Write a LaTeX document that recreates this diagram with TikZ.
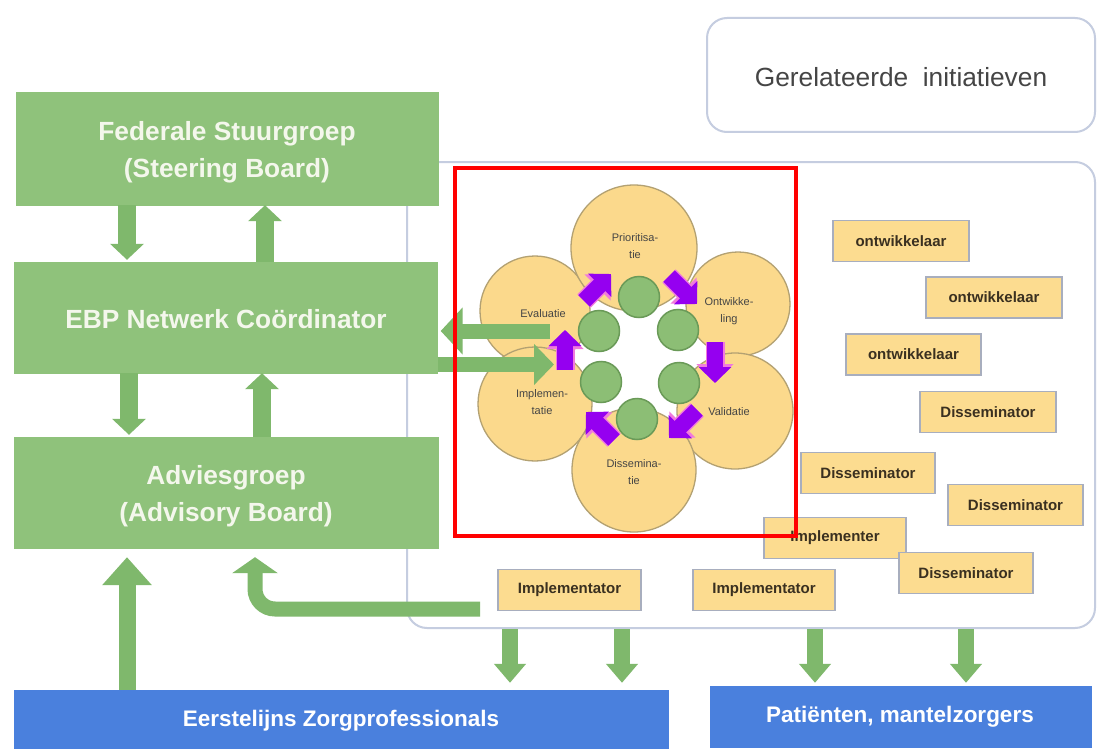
\documentclass[tikz,border=0pt]{standalone}
\usepackage{fontspec}
\setmainfont{Liberation Sans}
\usetikzlibrary{arrows.meta}
\definecolor{gboxc}{HTML}{8FC27B}
\definecolor{garrc}{HTML}{7FB86C}
\definecolor{gtext}{HTML}{F4F7EC}
\definecolor{bluec}{HTML}{4A80DD}
\definecolor{framec}{HTML}{C5CDE0}
\definecolor{labfill}{HTML}{FCDC90}
\definecolor{labdraw}{HTML}{A8AEBE}
\definecolor{labtext}{HTML}{3A3020}
\definecolor{petal}{HTML}{FBD98C}
\definecolor{petald}{HTML}{B3A172}
\definecolor{gcirc}{HTML}{8CBE75}
\definecolor{gcircd}{HTML}{6A9A58}
\definecolor{purp}{HTML}{9500F0}
\definecolor{pinkh}{HTML}{F07ADC}
\definecolor{darkt}{HTML}{454545}
\begin{document}
\begin{tikzpicture}[x=1pt,y=-1pt,
  gbox/.style={rectangle, fill=gboxc, draw=gboxc, inner sep=0pt},
  gtxt/.style={text=gtext, align=center, inner sep=0pt, font=\fontsize{26.3}{37}\selectfont\bfseries},
  bbar/.style={rectangle, fill=bluec, draw=bluec, inner sep=0pt},
  btxt/.style={text=white, font=\fontsize{22.5}{27}\selectfont\bfseries},
  frame/.style={rectangle, rounded corners=20pt, draw=framec, line width=2pt, fill=white, inner sep=0pt},
  lab/.style={rectangle, fill=labfill, draw=labdraw, line width=1.5pt, inner sep=0pt,
    minimum height=41pt, text=labtext, font=\fontsize{15}{17}\selectfont\bfseries},
  petalc/.style={circle, fill=petal, draw=petald, line width=1.3pt, inner sep=0pt},
  ptxt/.style={text=darkt, align=center, inner sep=0pt, font=\fontsize{11}{17.5}\selectfont},
  gc/.style={circle, fill=gcirc, draw=gcircd, line width=1.5pt, inner sep=0pt, minimum size=41pt},
  garrow/.style={draw=garrc, line width=18pt, -{Triangle[width=33pt,length=16pt]}},
  garrowbig/.style={draw=garrc, line width=17pt, -{Triangle[width=48pt,length=28pt]}},
  garrowbent/.style={draw=garrc, line width=15pt, rounded corners=20pt, -{Triangle[width=45pt,length=16pt]}},
  garrowh/.style={draw=garrc, line width=15pt, -{Triangle[width=46pt,length=22pt]}},
  garrowd/.style={draw=garrc, line width=16pt, -{Triangle[width=31pt,length=19pt]}},
  phalo/.style={draw=pinkh, line width=19pt, -{Triangle[width=36pt,length=19pt]}},
  parrow/.style={draw=purp, line width=16pt, -{Triangle[width=32pt,length=16pt]}}
]
\useasboundingbox (0,0) rectangle (1097,749);
\fill[white] (0,0) rectangle (1097,749);

% frames
\node[frame, minimum width=388pt, minimum height=114pt] (rel) at (901,75) {};
\node[text=darkt, font=\fontsize{26.3}{30}\selectfont] (reltext) at (901,77) {Gerelateerde\ \ initiatieven};
\node[frame, minimum width=688pt, minimum height=466pt] (cont) at (751,395) {};

% left column boxes
\node[gbox, minimum width=422pt, minimum height=113pt] (fed) at (227,148.5) {};
\node[gtxt] (fedt) at (227,152) {Federale Stuurgroep\\(Steering Board)};
\node[gbox, minimum width=423pt, minimum height=111pt] (ebp) at (226,317.5) {};
\node[gtxt] (ebpt) at (226,319) {EBP Netwerk Coördinator};
\node[gbox, minimum width=424pt, minimum height=111pt] (adv) at (226,492.5) {};
\node[gtxt] (advt) at (226,496.5) {Adviesgroep\\(Advisory Board)};

% bottom bars
\node[bbar, minimum width=654pt, minimum height=60pt] (eer) at (341,720) {};
\node[btxt] (eert) at (341,721) {Eerstelijns Zorgprofessionals};
\node[bbar, minimum width=381pt, minimum height=61pt] (pat) at (900.5,716.5) {};
\node[btxt] (patt) at (900,717) {Patiënten, mantelzorgers};

% arrows between left boxes
\draw[garrow] ([xshift=-100pt]fed.south) -- ([xshift=-100pt,yshift=2pt]fed.south |- ebp.north);
\draw[garrow] ([xshift=38pt]fed.south |- ebp.north) -- ([xshift=38pt]fed.south);
\draw[garrow] ([xshift=-97pt]ebp.south) -- ([xshift=-97pt,yshift=2pt]ebp.south |- adv.north);
\draw[garrow] ([xshift=36pt]ebp.south |- adv.north) -- ([xshift=36pt]ebp.south);
\draw[garrowbig] ([xshift=-99pt]adv.south |- eer.north) -- ([xshift=-99pt,yshift=-9pt]adv.south);
\coordinate (bs) at (480,609);
\draw[garrowbent] (bs) -| ([xshift=29pt,yshift=-9pt]adv.south);

% down arrows to bottom bars
\coordinate (x1) at (510,0);
\coordinate (x2) at (622,0);
\coordinate (x3) at (815,0);
\coordinate (x4) at (966,0);
\draw[garrowd] (x1 |- cont.south) -- ([yshift=7pt]x1 |- eer.north);
\draw[garrowd] (x2 |- cont.south) -- ([yshift=7pt]x2 |- eer.north);
\draw[garrowd] (x3 |- cont.south) -- ([yshift=3pt]x3 |- pat.north);
\draw[garrowd] (x4 |- cont.south) -- ([yshift=3pt]x4 |- pat.north);

% flower petals
\node[petalc, minimum size=110pt] (eva) at (535,311) {};
\node[petalc, minimum size=126pt] (pri) at (634,248) {};
\node[petalc, minimum size=104pt] (ont) at (738,304) {};
\node[petalc, minimum size=116pt] (val) at (735,411) {};
\node[petalc, minimum size=114pt] (imp) at (535,404) {};
\node[petalc, minimum size=124pt] (dis) at (634,470) {};
\node[ptxt] (evat) at (543,314) {Evaluatie};
\node[ptxt] (prit) at (635,246) {Prioritisa-\\tie};
\node[ptxt] (ontt) at (729,311) {Ontwikke-\\ling};
\node[ptxt] (valt) at (729,412) {Validatie};
\node[ptxt] (imptt) at (542,402) {Implemen-\\tatie};
\node[ptxt] (dist) at (634,472) {Dissemina-\\tie};

% horizontal arrows (over the petals)
\coordinate (hl) at (550,331);
\coordinate (hr) at (554,364.5);
\draw[garrowh] (hl) -- ([xshift=3pt,yshift=-13.5pt]ebp.east);
\draw[garrowh, -{Triangle[width=40pt,length=20pt]}] ([yshift=-47pt]ebp.east) -- (hr);

% inner green circles
\node[gc] (g1) at (639,297) {};
\node[gc] (g2) at (599,331) {};
\node[gc] (g3) at (678,330) {};
\node[gc] (g4) at (601,382) {};
\node[gc] (g5) at (679,383) {};
\node[gc] (g6) at (637,419) {};

% purple arrows
\coordinate (p1s) at (584,301); \coordinate (p1e) at (611,274);
\coordinate (p2s) at (669,276); \coordinate (p2e) at (697,304);
\coordinate (p3s) at (715,342); \coordinate (p3e) at (715,383);
\coordinate (p4s) at (697,410); \coordinate (p4e) at (669,438);
\coordinate (p5s) at (614,440); \coordinate (p5e) at (586,412);
\coordinate (p6s) at (565,370); \coordinate (p6e) at (565,330);
\foreach \a in {1,...,6} { \draw[phalo] (p\a s) -- (p\a e); }
\foreach \a in {1,...,6} { \draw[parrow] (p\a s) -- (p\a e); }

% labels
\node[lab, minimum width=136pt] (o1) at (901,241) {ontwikkelaar};
\node[lab, minimum width=136pt] (o2) at (994,297.5) {ontwikkelaar};
\node[lab, minimum width=135pt] (o3) at (913.5,354.5) {ontwikkelaar};
\node[lab, minimum width=136pt] (d1) at (988,412) {Disseminator};
\node[lab, minimum width=134pt] (d2) at (868,473) {Disseminator};
\node[lab, minimum width=135pt] (d3) at (1015.5,505) {Disseminator};
\node[lab, minimum width=142pt] (im) at (835,538) {Implementer};
\node[lab, minimum width=134pt] (d4) at (966,573) {Disseminator};
\node[lab, minimum width=143pt] (i1) at (569.5,590) {Implementator};
\node[lab, minimum width=142pt] (i2) at (764,590) {Implementator};

% red highlight
\node[rectangle, draw=red, line width=4pt, inner sep=0pt, minimum width=341pt, minimum height=368pt] (red) at (625.5,352) {};
\end{tikzpicture}
\end{document}
